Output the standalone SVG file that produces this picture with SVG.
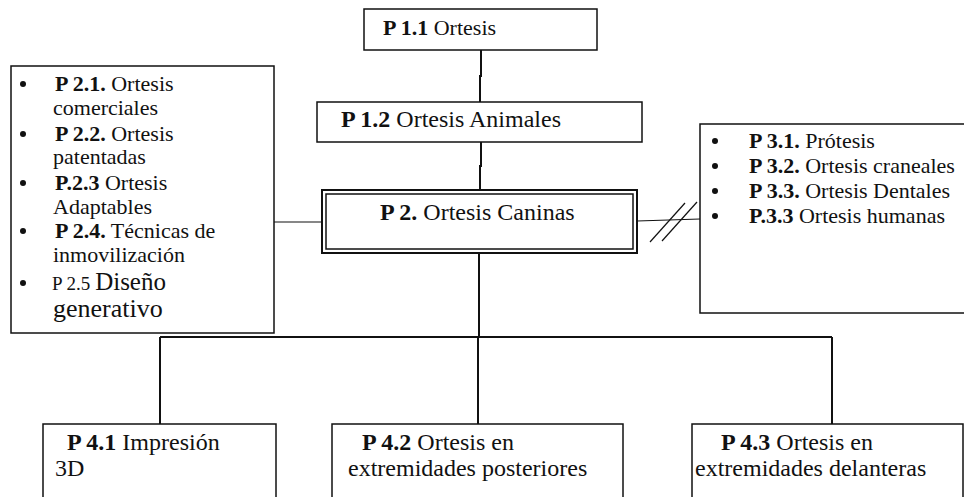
<svg xmlns="http://www.w3.org/2000/svg" width="964" height="497" viewBox="0 0 964 497">
<style>
.box{fill:#fff;stroke:#111;stroke-width:1.5}
.ln{fill:none;stroke:#111;stroke-width:2}
.thin{fill:none;stroke:#111;stroke-width:1.2}
text{font-family:"Liberation Serif","Times New Roman",serif;fill:#111}
.b{font-weight:bold}
.s22{font-size:22px}
.s24{font-size:24px}
.dot{fill:#111}
</style>
<rect width="964" height="497" fill="#fff"/>
<g id="connectors">
<polyline class="ln" points="481,50 481,76 480,76 480,102"/>
<polyline class="ln" points="481,142 481,166 480,166 480,190"/>
<line class="thin" x1="274" y1="222" x2="322" y2="222"/>
<line class="thin" x1="637" y1="221" x2="700" y2="219"/>
<line class="thin" x1="650" y1="242" x2="685" y2="203"/>
<line class="thin" x1="662" y1="241" x2="697" y2="202"/>
<line class="ln" x1="479" y1="253" x2="479" y2="337"/>
<line class="ln" x1="160" y1="337" x2="832" y2="337"/>
<line class="ln" x1="160" y1="337" x2="160" y2="424"/>
<line class="ln" x1="478" y1="337" x2="478" y2="424"/>
<line class="ln" x1="832" y1="337" x2="832" y2="424"/>
</g>
<g id="p11">
<rect class="box" x="364" y="9" width="233" height="41"/>
<text class="s22" x="383" y="35"><tspan class="b">P 1.1</tspan> Ortesis</text>
</g>
<g id="p12">
<rect class="box" x="317" y="102" width="325" height="40"/>
<text class="s24" x="341" y="127"><tspan class="b">P 1.2</tspan> Ortesis Animales</text>
</g>
<g id="p2">
<rect x="322" y="190" width="315" height="63" fill="#fff" stroke="#111" stroke-width="2"/>
<rect x="326" y="194" width="307" height="55" fill="none" stroke="#111" stroke-width="1.5"/>
<text class="s24" x="380" y="220"><tspan class="b">P 2.</tspan> Ortesis Caninas</text>
</g>
<g id="p2list">
<rect class="box" x="11" y="66" width="263" height="267"/>
<circle class="dot" cx="23" cy="84" r="3"/>
<circle class="dot" cx="23" cy="134" r="3"/>
<circle class="dot" cx="23" cy="183" r="3"/>
<circle class="dot" cx="23" cy="231" r="3"/>
<circle class="dot" cx="23" cy="283" r="3"/>
<text class="s22" x="55" y="91"><tspan class="b">P 2.1.</tspan> Ortesis</text>
<text class="s22" x="53" y="115">comerciales</text>
<text class="s22" x="55" y="141"><tspan class="b">P 2.2.</tspan> Ortesis</text>
<text class="s22" x="53" y="164">patentadas</text>
<text class="s22" x="55" y="190"><tspan class="b">P.2.3</tspan> Ortesis</text>
<text class="s22" x="53" y="214">Adaptables</text>
<text class="s22" x="55" y="238"><tspan class="b">P 2.4.</tspan> Técnicas de</text>
<text class="s22" x="53" y="262">inmovilización</text>
<text x="52" y="290" font-size="19"><tspan>P 2.5 </tspan><tspan font-size="25">Diseño</tspan></text>
<text x="53" y="317" font-size="26">generativo</text>
</g>
<g id="p3list">
<rect class="box" x="700" y="124" width="280" height="189"/>
<circle class="dot" cx="715" cy="141" r="3"/>
<circle class="dot" cx="715" cy="166" r="3"/>
<circle class="dot" cx="715" cy="191" r="3"/>
<circle class="dot" cx="715" cy="216" r="3"/>
<text class="s22" x="749" y="148"><tspan class="b">P 3.1.</tspan> Prótesis</text>
<text class="s22" x="749" y="173"><tspan class="b">P 3.2.</tspan> Ortesis craneales</text>
<text class="s22" x="749" y="198"><tspan class="b">P 3.3.</tspan> Ortesis Dentales</text>
<text class="s22" x="749" y="223"><tspan class="b">P.3.3</tspan> Ortesis humanas</text>
</g>
<g id="p41">
<rect class="box" x="43" y="424" width="233" height="80"/>
<text class="s24" x="67" y="450"><tspan class="b">P 4.1</tspan> Impresión</text>
<text class="s24" x="55" y="476">3D</text>
</g>
<g id="p42">
<rect class="box" x="332" y="424" width="291" height="80"/>
<text class="s24" x="362" y="450"><tspan class="b">P 4.2</tspan> Ortesis en</text>
<text class="s24" x="348" y="476">extremidades posteriores</text>
</g>
<g id="p43">
<rect class="box" x="692" y="424" width="271" height="80"/>
<text class="s24" x="721" y="450"><tspan class="b">P 4.3</tspan> Ortesis en</text>
<text class="s24" x="695" y="476">extremidades delanteras</text>
</g>
</svg>
